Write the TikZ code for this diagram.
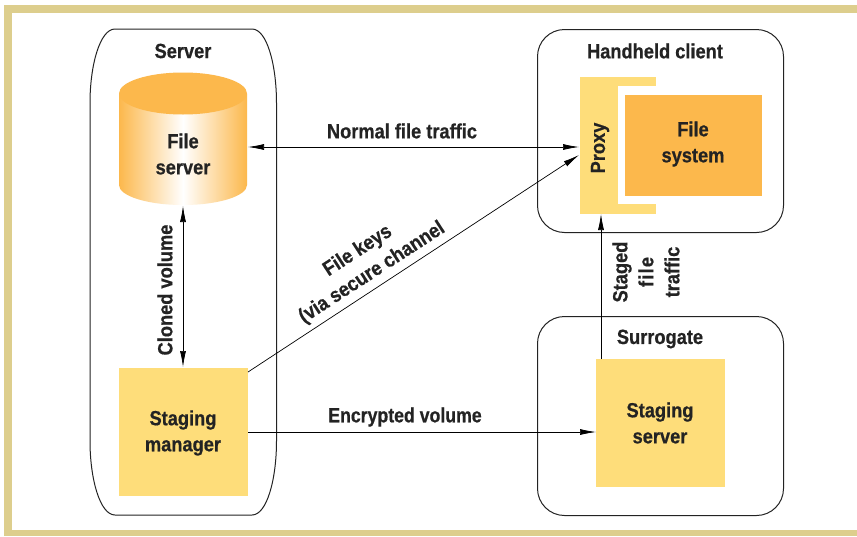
\documentclass[tikz,border=0pt]{standalone}
\usepackage{fontspec}
\setmainfont[FakeStretch=0.89,FakeBold=0.6]{Liberation Sans}
\usetikzlibrary{arrows.meta}
\definecolor{framec}{RGB}{221,206,141}
\definecolor{paley}{RGB}{254,221,122}
\definecolor{orng}{RGB}{252,184,76}
\definecolor{ink}{RGB}{35,35,35}
\tikzset{
 x=1pt,y=-1pt,
 lbl/.style={font=\fontsize{20.5}{26}\selectfont\bfseries,text=ink,align=center,inner sep=0pt},
 box/.style={draw=ink,line width=1pt,rounded corners=27pt,fill=none,inner sep=0pt},
 yblock/.style={fill=paley,inner sep=0pt},
 link/.style={draw=black,line width=0.7pt,-{Latex[length=16pt,width=6pt]}},
 dlink/.style={draw=black,line width=0.7pt,{Latex[length=16pt,width=6pt]}-{Latex[length=16pt,width=6pt]}},
}
\begin{document}
\begin{tikzpicture}
\useasboundingbox (0,0) rectangle (857,536);
\fill[white] (0,0) rectangle (857,536);
% frame
\fill[framec] (4,5) rectangle (857,13);
\fill[framec] (4,5) rectangle (12,536);
\fill[framec] (4,530) rectangle (857,536);
% containers
\draw[ink,line width=1pt] (115,29) -- (252,29) .. controls (267,29) and (276.5,65) .. (276.5,103) -- (276.5,441) .. controls (276.5,479) and (267,515) .. (252,515) -- (115,515) .. controls (100,515) and (90,479) .. (90,441) -- (90,103) .. controls (90,65) and (100,29) .. (115,29) -- cycle;
\node[box,minimum width=246pt,minimum height=203pt,anchor=north west] (client) at (537,29) {};
\node[box,minimum width=246pt,minimum height=199pt,anchor=north west] (surrogate) at (537,316) {};
% cylinder
\shade[left color=orng,right color=orng,middle color=white] (119,94) -- (119,185) arc[start angle=180,end angle=0,x radius=64,y radius=20] -- (247,94) -- cycle;
\fill[orng] (183,93.5) ellipse[x radius=64,y radius=21];
\coordinate (fsE) at (248,147);
\coordinate (fsS) at (183,206);
% yellow boxes
\node[yblock,minimum width=129pt,minimum height=128pt,anchor=north west] (manager) at (119,368) {};
\node[yblock,minimum width=129pt,minimum height=128pt,anchor=north west] (stagesrv) at (596,359) {};
\node[yblock,minimum width=76pt,minimum height=137pt,anchor=north west] (proxy) at (580,77) {};
\fill[white] (618,86) rectangle (657,204);
\node[fill=orng,inner sep=0pt,minimum width=137pt,minimum height=101pt,anchor=north west] (fsys) at (625,95) {};
\coordinate (pxA) at (579,147);
\coordinate (pxB) at (579,155);
\coordinate (pxC) at (601,214);
\coordinate (mgrN) at (183,367);
\coordinate (mgrA) at (248,372);
\coordinate (mgrB) at (248,432);
\coordinate (ssA) at (601,359);
\coordinate (ssB) at (596,432);
% connectors
\draw[dlink] (fsE) -- (pxA);
\draw[dlink] (fsS) -- (mgrN);
\draw[link] (mgrA) -- (pxB);
\draw[link] (mgrB) -- (ssB);
\draw[link] (ssA) -- (pxC);
% labels
\node[lbl] (l1) at (183,51) {Server};
\node[lbl] (l2) at (655,51) {Handheld client};
\node[lbl] (l3) at (660,339) {Surrogate};
\node[lbl] (l4) at (183,154) {File\\server};
\node[lbl] (l5) at (183,433) {Staging\\manager};
\node[lbl] (l6) at (660,423) {Staging\\server};
\node[lbl] (l7) at (693,144) {File\\system};
\node[lbl,rotate=90] (l8) at (600,148) {Proxy};
\node[lbl] (l9) at (402,131) {Normal file traffic};
\node[lbl,xscale=0.97] (l10) at (405,417) {Encrypted volume};
\node[lbl,rotate=90] (l11) at (165,290) {Cloned volume};
\node[lbl,rotate=90] (l12) at (646,272) {Staged\\{\addfontfeature{LetterSpace=6}file}\hspace{10pt}\\traffic};
\node[lbl,rotate=33] (l13) at (365,262) {File keys\\(via secure channel};
\end{tikzpicture}
\end{document}
